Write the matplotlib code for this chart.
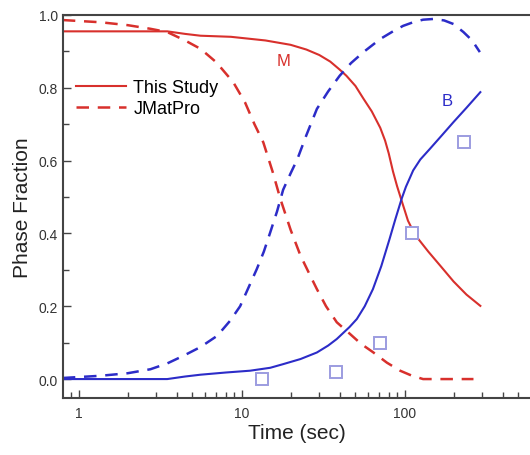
import matplotlib
matplotlib.use('Agg')
import matplotlib.pyplot as plt
from matplotlib.ticker import MultipleLocator, LogLocator, NullFormatter, FormatStrFormatter

plt.rcParams['font.family'] = ['Liberation Sans', 'DejaVu Sans']

# martensite, this study
t_m = [0.8, 3.5, 4.5, 5.6, 8.6, 14, 20, 25, 30, 35, 40, 44, 50, 56, 63, 71,
       76, 80, 85, 90, 96, 100, 105, 112, 119, 140, 166, 200, 240, 292]
m_study = [0.955, 0.955, 0.948, 0.943, 0.94, 0.93, 0.918, 0.905, 0.89, 0.872, 0.85, 0.833, 0.805, 0.77, 0.735, 0.69,
           0.655, 0.62, 0.57, 0.53, 0.49, 0.465, 0.435, 0.41, 0.39, 0.35, 0.311, 0.268, 0.232, 0.201]

# martensite, JMatPro
t_mj = [0.8, 1.36, 2, 2.76, 3.5, 4.5, 5.6, 7, 8.9, 10.5, 12, 13.6, 15.5, 17.3, 20, 23, 26, 29,
        33, 38.4, 46, 54, 64, 78, 94, 110, 130, 265]
m_jmat = [0.986, 0.98, 0.972, 0.962, 0.953, 0.93, 0.907, 0.87, 0.815, 0.76, 0.70, 0.65, 0.57, 0.495, 0.41, 0.339, 0.29, 0.247,
          0.2, 0.156, 0.125, 0.097, 0.074, 0.045, 0.023, 0.01, 0.0, 0.0]

# bainite, this study
t_b = [0.8, 3.5, 4.5, 5.6, 8, 11.3, 15, 18, 23, 29, 34, 38.4, 46, 51, 57, 64, 72, 81, 88, 96,
       102, 108, 113, 125, 143, 170, 200, 240, 292]
b_study = [0.0, 0.0, 0.007, 0.012, 0.018, 0.023, 0.031, 0.041, 0.055, 0.073, 0.092, 0.11, 0.143, 0.165, 0.2, 0.247, 0.31, 0.385, 0.44, 0.495,
           0.528, 0.553, 0.573, 0.603, 0.632, 0.67, 0.706, 0.745, 0.788]

# bainite, JMatPro
t_bj = [0.8, 1.36, 2, 2.76, 3.5, 4.4, 5.6, 7.1, 8.5, 9.8, 11, 12.4, 13.7, 15, 16.5, 18, 20, 22, 25, 29,
        34, 40, 47, 56, 71, 85, 98, 113, 130, 150, 175, 200, 230, 260, 290]
b_jmat = [0.003, 0.009, 0.016, 0.027, 0.043, 0.064, 0.088, 0.119, 0.16, 0.2, 0.25, 0.302, 0.35, 0.403, 0.46, 0.52, 0.565, 0.604, 0.67, 0.742,
          0.79, 0.833, 0.868, 0.898, 0.934, 0.955, 0.97, 0.98, 0.987, 0.989, 0.985, 0.975, 0.953, 0.93, 0.898]

# experiment
t_exp = [13.4, 38, 70.5, 111, 233]
b_exp = [0.0, 0.02, 0.1, 0.4, 0.65]

red = '#d8302c'
blue = '#2c2cc8'

fig = plt.figure(figsize=(5.30, 4.56), dpi=100)
ax = fig.add_axes([0.119, 0.125, 0.881, 0.840])

ax.plot(t_m, m_study, color=red, lw=1.5, label='This Study')
ax.plot(t_mj, m_jmat, color=red, lw=1.8, ls=(0, (5, 3.5)), label='JMatPro')
ax.plot(t_b, b_study, color=blue, lw=1.5)
ax.plot(t_bj, b_jmat, color=blue, lw=1.8, ls=(0, (5, 3.5)))
ax.plot(t_exp, b_exp, ls='none', marker='s', ms=8, mfc='white',
        mec='#9c9ce0', mew=1.4)

ax.text(18, 0.874, 'M', color=red, fontsize=12, ha='center', va='center')
ax.text(182, 0.766, 'B', color=blue, fontsize=12, ha='center', va='center')

ax.set_xscale('log')
ax.set_xlim(0.803, 589)
ax.set_ylim(-0.052, 1.0)
ax.xaxis.set_minor_locator(LogLocator(base=10, subs=range(2, 10)))
ax.xaxis.set_minor_formatter(NullFormatter())
ax.set_xticks([1, 10, 100])
ax.set_xticklabels(['1', '10', '100'])
ax.yaxis.set_major_locator(MultipleLocator(0.2))
ax.yaxis.set_minor_locator(MultipleLocator(0.1))
ax.yaxis.set_major_formatter(FormatStrFormatter('%.1f'))

ax.tick_params(which='both', direction='in', colors='#444444', labelcolor='#333333', labelsize=10)
ax.tick_params(which='major', length=6, width=1)
ax.tick_params(which='minor', length=4, width=1)
ax.tick_params(axis='x', pad=6)

for s in ['left', 'bottom', 'top']:
    ax.spines[s].set_color('#444444')
    ax.spines[s].set_linewidth(1.5)
ax.spines['right'].set_visible(False)

ax.set_xlabel('Time (sec)', fontsize=15, color='#222222', labelpad=2)
ax.set_ylabel('Phase Fraction', fontsize=15, color='#222222', labelpad=5)

leg = ax.legend(loc='upper left', bbox_to_anchor=(0.0, 0.865), frameon=False,
                fontsize=13, handlelength=2.8, handletextpad=0.4,
                labelspacing=0.2, borderaxespad=0.3)

fig.savefig('out.png', dpi=100)
